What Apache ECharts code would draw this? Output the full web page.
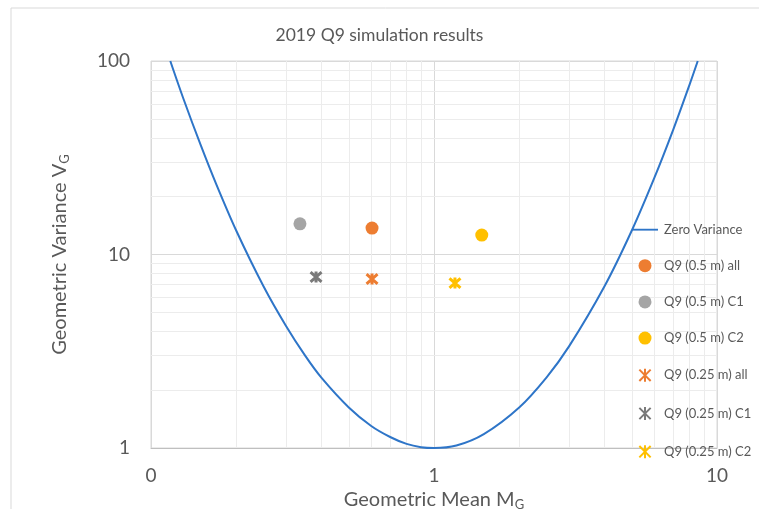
<!DOCTYPE html>
<html>
<head>
<meta charset="utf-8">
<script src="https://cdn.jsdelivr.net/npm/echarts@6/dist/echarts.min.js"></script>
<style>
  html, body { margin: 0; padding: 0; background: #fff; }
  #chart { width: 759px; height: 509px; }
</style>
</head>
<body>
<div id="chart"></div>
<script>
// zero variance curve
const curveM = [0.117, 0.13, 0.15, 0.17, 0.2, 0.25, 0.3, 0.35, 0.4, 0.5, 0.6, 0.7, 0.8, 0.9, 1, 1.2, 1.5, 2, 2.5, 3, 4, 5, 6, 7, 8, 8.55];
const curveV = [100, 64.2, 36.6, 23.1, 13.3, 6.83, 4.27, 3.01, 2.31, 1.62, 1.30, 1.14, 1.05, 1.01, 1, 1.03, 1.18, 1.62, 2.32, 3.35, 6.83, 13.3, 24.8, 44.1, 75.5, 100];

// simulation points [M_G, V_G]
const q9HalfAll = [[0.604, 13.7]];
const q9HalfC1 = [[0.336, 14.4]];
const q9HalfC2 = [[1.475, 12.6]];
const q9QuarterAll = [[0.604, 7.47]];
const q9QuarterC1 = [[0.383, 7.65]];
const q9QuarterC2 = [[1.186, 7.12]];

// minor grid positions
const minorX = [0.2, 0.3, 0.4, 0.5, 0.6, 0.7, 0.8, 0.9, 2, 3, 4, 5, 6, 7, 8, 9];
const minorY = [2, 3, 4, 5, 6, 7, 8, 9, 20, 30, 40, 50, 60, 70, 80, 90];

const FONT = 'Lato, "Open Sans", sans-serif';
const TXT = '#595959';
const starPath = 'path://M-1,-1L1,1M-1,1L1,-1M0,-1.15L0,1.15';
// flat line icon for the curve in the legend (invisible corner points keep the box)
const lineIcon = 'path://M0,0L0,0M0,6.2L28,6.2L28,8.2L0,8.2ZM28,14L28,14';

const chart = echarts.init(document.getElementById('chart'));

function star(name, color, data) {
  return {
    name: name, type: 'scatter', data: data,
    symbol: starPath, symbolSize: 11,
    itemStyle: { color: 'rgba(0,0,0,0)', borderColor: color, borderWidth: 3, opacity: 1 }
  };
}

function dot(name, color, data) {
  return {
    name: name, type: 'scatter', data: data, symbolSize: 13,
    itemStyle: { color: color, opacity: 1 }
  };
}

const minorLines = [];
minorX.forEach(v => minorLines.push({ xAxis: v }));
minorY.forEach(v => minorLines.push({ yAxis: v }));

chart.setOption({
  animation: false,
  textStyle: { fontFamily: FONT },
  graphic: [{
    type: 'rect', z: -10, silent: true,
    shape: { x: 11, y: 8, width: 820, height: 620 },
    style: { fill: 'none', stroke: '#d9d9d9', lineWidth: 1 }
  }],
  title: {
    text: '2019 Q9 simulation results',
    left: 'center', top: 21,
    textStyle: { fontFamily: FONT, fontSize: 17.5, fontWeight: 'normal', color: TXT }
  },
  grid: {
    left: 151, top: 61, width: 566, height: 387,
    outerBoundsMode: 'none', containLabel: false,
    show: true, borderColor: '#d9d9d9', borderWidth: 1
  },
  xAxis: {
    type: 'log', logBase: 10, min: 0.1, max: 10,
    name: '{a|Geometric Mean M}{s|G}',
    nameLocation: 'middle', nameGap: 36,
    nameTextStyle: {
      rich: {
        a: { fontFamily: FONT, fontSize: 20, color: TXT },
        s: { fontFamily: FONT, fontSize: 13, color: TXT, padding: [9, 0, 0, 0] }
      }
    },
    axisLine: { show: true, lineStyle: { color: '#bfbfbf' } },
    axisTick: { show: false },
    axisLabel: {
      fontFamily: FONT, fontSize: 19, color: TXT, margin: 18,
      formatter: v => (v < 1 ? '0' : String(Math.round(v)))
    },
    splitLine: { show: true, lineStyle: { color: '#d9d9d9' } }
  },
  yAxis: {
    type: 'log', logBase: 10, min: 1, max: 100,
    name: '{a|Geometric Variance V}{s|G}',
    nameLocation: 'middle', nameGap: 80, nameRotate: 90,
    nameTextStyle: {
      rich: {
        a: { fontFamily: FONT, fontSize: 20, color: TXT },
        s: { fontFamily: FONT, fontSize: 13, color: TXT, padding: [9, 0, 0, 0] }
      }
    },
    axisLine: { show: false },
    axisTick: { show: false },
    axisLabel: { fontFamily: FONT, fontSize: 19, color: TXT, margin: 21 },
    splitLine: { show: true, lineStyle: { color: '#d9d9d9' } }
  },
  legend: {
    orient: 'vertical', left: 627, top: 218,
    itemWidth: 28, itemHeight: 13, itemGap: 23.2,
    textStyle: { fontFamily: FONT, fontSize: 13, color: TXT },
    data: [{ name: 'Zero Variance', icon: lineIcon },
           'Q9 (0.5 m) all', 'Q9 (0.5 m) C1', 'Q9 (0.5 m) C2',
           'Q9 (0.25 m) all', 'Q9 (0.25 m) C1', 'Q9 (0.25 m) C2']
  },
  series: [
    {
      name: 'Zero Variance', type: 'line', smooth: 0.3, symbol: 'none',
      data: curveM.map((m, i) => [m, curveV[i]]),
      lineStyle: { color: '#2E75C8', width: 2 },
      itemStyle: { color: '#2E75C8' },
      z: 3,
      markLine: {
        silent: true, symbol: 'none', label: { show: false },
        lineStyle: { color: '#ececec', type: 'solid', width: 1 },
        data: minorLines, z: 0
      }
    },
    dot('Q9 (0.5 m) all', '#ED7D31', q9HalfAll),
    dot('Q9 (0.5 m) C1', '#A5A5A5', q9HalfC1),
    dot('Q9 (0.5 m) C2', '#FFC000', q9HalfC2),
    star('Q9 (0.25 m) all', '#ED7D31', q9QuarterAll),
    star('Q9 (0.25 m) C1', '#7A7A7A', q9QuarterC1),
    star('Q9 (0.25 m) C2', '#FFC000', q9QuarterC2)
  ]
});
</script>
</body>
</html>
